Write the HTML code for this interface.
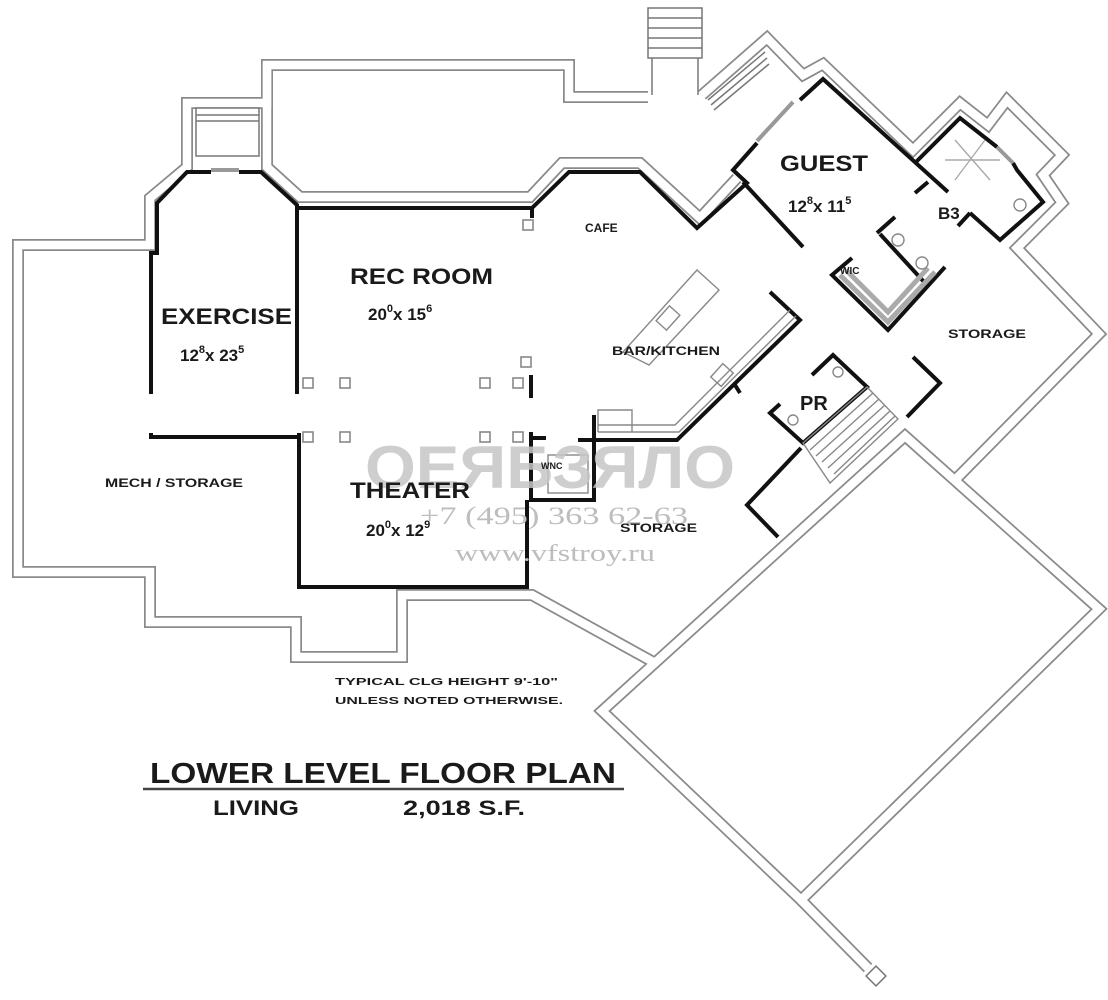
<!DOCTYPE html>
<html><head><meta charset="utf-8"><style>
html,body{margin:0;padding:0;background:#fff;}
svg{display:block}
.b{font-family:"Liberation Sans",Arial,sans-serif;font-weight:bold;fill:#1a1a1a}
</style></head><body>
<svg width="1108" height="1000" viewBox="0 0 1108 1000" xmlns="http://www.w3.org/2000/svg">
<rect width="1108" height="1000" fill="#fff"/>

<g fill="none" stroke-linejoin="miter" stroke-miterlimit="10">
 <g stroke="#8a8a8a" stroke-width="12">
  <path d="M648,97 H569 V65 H267 V103 H187 V167 L150,198 V245 H18 V572 H150 V622 H296 V657 H402 V595 H532 L655,663"/>
  <path d="M267,65 V167 L300,197 H530 L562,163 H640 L700,218 L737,178"/>
  <path d="M702,95 L767,38 L803,75 L823,64 L913,150 L960,103 L988,125 L1007,100 L1062,155 L1043,175 L1062,203 L1017,248 L1099,334 L957,478"/>
  <path d="M602,711 L905,436 L1099,609 L801,900 Z"/>
  <path d="M801,900 L868,968"/>
 </g>
 <g stroke="#fff" stroke-width="8.5">
  <path d="M648,97 H569 V65 H267 V103 H187 V167 L150,198 V245 H18 V572 H150 V622 H296 V657 H402 V595 H532 L655,663"/>
  <path d="M267,65 V167 L300,197 H530 L562,163 H640 L700,218 L737,178"/>
  <path d="M702,95 L767,38 L803,75 L823,64 L913,150 L960,103 L988,125 L1007,100 L1062,155 L1043,175 L1062,203 L1017,248 L1099,334 L957,478"/>
  <path d="M602,711 L905,436 L1099,609 L801,900 Z"/>
  <path d="M801,900 L868,968"/>
 </g>
 <rect x="-7" y="-7" width="14" height="14" stroke="#777" stroke-width="1.5" fill="#fff" transform="translate(876,976) rotate(45)"/>
 <g stroke="#777" stroke-width="1.5">
  <rect x="648" y="8" width="54" height="50" fill="#fff"/>
  <line x1="648" y1="18" x2="702" y2="18"/><line x1="648" y1="28" x2="702" y2="28"/>
  <line x1="648" y1="38" x2="702" y2="38"/><line x1="648" y1="48" x2="702" y2="48"/>
  <line x1="652" y1="58" x2="652" y2="95"/><line x1="698" y1="58" x2="698" y2="95"/>
  <line x1="708" y1="100" x2="765" y2="52"/><line x1="711" y1="105" x2="767" y2="58"/><line x1="714" y1="110" x2="769" y2="64"/>
  <rect x="196" y="108" width="63" height="48" fill="#fff"/>
  <line x1="196" y1="115" x2="259" y2="115"/><line x1="196" y1="121" x2="259" y2="121"/>
 </g>
</g>

<g fill="none" stroke="#111" stroke-width="4" stroke-linejoin="miter">
 <path d="M151,394 V253 H157 V203 L187,172 H211"/>
 <path d="M239,172 H261 L297,205 V394"/>
 <path d="M151,433 V437 H299"/>
 <path d="M299,433 V587 H527 V500"/>
 <path d="M297,208 H532 L569,172 H640 L697,228 L747,183 L733,170 L757,143"/>
 <path d="M800,100 L823,79 L948,192"/>
 <path d="M743,182 L803,247"/>
 <line x1="532" y1="208" x2="532" y2="218"/>
 <line x1="531" y1="375" x2="531" y2="398"/>
 <path d="M531,432 V500 H594 V415"/>
 <path d="M531,438 H546"/>
 <path d="M578,440 H677 L800,320 L770,292"/>
 <line x1="735" y1="385" x2="740" y2="393"/>
 <path d="M915,163 L960,118 L997,147"/>
 <path d="M1013,163 L1017,170 L1043,202 L1000,240 L970,213"/>
 <line x1="915" y1="193" x2="928" y2="182"/>
 <line x1="970" y1="213" x2="958" y2="226"/>
 <path d="M852,258 L832,275 L888,330 L945,267"/>
 <path d="M877,233 L895,217"/>
 <path d="M880,234 L925,283"/>
 <path d="M812,375 L833,355 L867,387 L803,443 L770,413 L780,404"/>
 <path d="M801,448 L747,505 L778,537"/>
 <path d="M913,357 L940,383 L907,417"/>
</g>

<g fill="none" stroke="#888" stroke-width="1.4">
 <path d="M598,432 V410 H632 V432"/>
 <path d="M598,425 H675 L790,310"/>
 <path d="M598,432 H679 L796,316"/>
 <path d="M623,352 L697,270 L719,290 L649,365 Z"/>
 <rect x="-7" y="-10" width="14" height="20" transform="translate(668,318) rotate(42)"/>
 <rect x="-7" y="-9" width="14" height="18" transform="translate(722,375) rotate(42)"/>
 <rect x="548" y="455" width="40" height="38"/>
 <path d="M803,443 L867,387 L898,419 L830,483 Z"/>
 <path d="M810,450 L873,393 M816,456 L879,399 M822,462 L885,405 M828,468 L890,411 M834,474 L895,416"/>
 <path d="M840,275 L888,322 L935,272 M846,270 L888,312 L928,268" stroke="#aaa" stroke-width="5"/>
 <circle cx="898" cy="240" r="6"/><circle cx="922" cy="263" r="6"/>
 <circle cx="1020" cy="205" r="6"/>
 <circle cx="793" cy="420" r="5"/><circle cx="838" cy="372" r="5"/>
 <path d="M945,160 L1000,160 M955,140 L990,180 M985,140 L955,180" stroke="#aaa"/>
</g>
<g stroke="#999" stroke-width="4" fill="none">
 <line x1="757" y1="141" x2="793" y2="102"/>
 <line x1="211" y1="170" x2="239" y2="170"/>
 <line x1="997" y1="147" x2="1013" y2="163"/>
</g>

<g fill="#fff" stroke="#888" stroke-width="1.6">
 <rect x="303" y="378" width="10" height="10"/><rect x="340" y="378" width="10" height="10"/>
 <rect x="480" y="378" width="10" height="10"/><rect x="513" y="378" width="10" height="10"/>
 <rect x="303" y="432" width="10" height="10"/><rect x="340" y="432" width="10" height="10"/>
 <rect x="480" y="432" width="10" height="10"/><rect x="513" y="432" width="10" height="10"/>
 <rect x="523" y="220" width="10" height="10"/><rect x="521" y="357" width="10" height="10"/>
</g>

<text x="365" y="488" font-family="Liberation Sans,sans-serif" font-weight="bold" font-size="60" fill="#c6c6c6" fill-opacity="0.85" textLength="370" lengthAdjust="spacingAndGlyphs">ОЕЯБЗЯЛО</text>
<text x="420" y="524" font-family="Liberation Serif,serif" font-size="25" fill="#bdbdbd" textLength="268" lengthAdjust="spacingAndGlyphs">+7 (495) 363 62-63</text>
<text x="455" y="561" font-family="Liberation Serif,serif" font-size="24" fill="#bdbdbd" textLength="200" lengthAdjust="spacingAndGlyphs">www.vfstroy.ru</text>

<text class="b" x="585" y="232" font-size="12">CAFE</text>
<text class="b" x="350" y="284" font-size="22" textLength="143" lengthAdjust="spacingAndGlyphs">REC ROOM</text>
<text class="b" x="368" y="320" font-size="17">20<tspan dy="-8" font-size="11">0</tspan><tspan dy="8">x 15</tspan><tspan dy="-8" font-size="11">6</tspan></text>
<text class="b" x="161" y="324" font-size="22" textLength="131" lengthAdjust="spacingAndGlyphs">EXERCISE</text>
<text class="b" x="180" y="361" font-size="17">12<tspan dy="-8" font-size="11">8</tspan><tspan dy="8">x 23</tspan><tspan dy="-8" font-size="11">5</tspan></text>
<text class="b" x="105" y="487" font-size="11.5" textLength="138" lengthAdjust="spacingAndGlyphs">MECH / STORAGE</text>
<text class="b" x="350" y="498" font-size="22" textLength="120" lengthAdjust="spacingAndGlyphs">THEATER</text>
<text class="b" x="366" y="536" font-size="17">20<tspan dy="-8" font-size="11">0</tspan><tspan dy="8">x 12</tspan><tspan dy="-8" font-size="11">9</tspan></text>
<text class="b" x="612" y="355" font-size="11.5" textLength="108" lengthAdjust="spacingAndGlyphs">BAR/KITCHEN</text>
<text class="b" x="620" y="532" font-size="12" textLength="77" lengthAdjust="spacingAndGlyphs">STORAGE</text>
<text class="b" x="948" y="338" font-size="12" textLength="78" lengthAdjust="spacingAndGlyphs">STORAGE</text>
<text class="b" x="780" y="171" font-size="22" textLength="88" lengthAdjust="spacingAndGlyphs">GUEST</text>
<text class="b" x="788" y="212" font-size="17">12<tspan dy="-8" font-size="11">8</tspan><tspan dy="8">x 11</tspan><tspan dy="-8" font-size="11">5</tspan></text>
<text class="b" x="938" y="219" font-size="17">B3</text>
<text class="b" x="840" y="274" font-size="10">WIC</text>
<text class="b" x="800" y="410" font-size="20">PR</text>
<text class="b" x="541" y="469" font-size="9">WNC</text>
<text class="b" x="335" y="685" font-size="10.5" textLength="223" lengthAdjust="spacingAndGlyphs">TYPICAL CLG HEIGHT 9'-10"</text>
<text class="b" x="335" y="704" font-size="10.5" textLength="228" lengthAdjust="spacingAndGlyphs">UNLESS NOTED OTHERWISE.</text>
<text class="b" x="150" y="783" font-size="29" textLength="466" lengthAdjust="spacingAndGlyphs">LOWER LEVEL FLOOR PLAN</text>
<line x1="143" y1="789" x2="624" y2="789" stroke="#444" stroke-width="2.5"/>
<text class="b" x="213" y="815" font-size="21" textLength="86" lengthAdjust="spacingAndGlyphs">LIVING</text>
<text class="b" x="403" y="815" font-size="21" textLength="122" lengthAdjust="spacingAndGlyphs">2,018 S.F.</text>
</svg>
</body></html>
